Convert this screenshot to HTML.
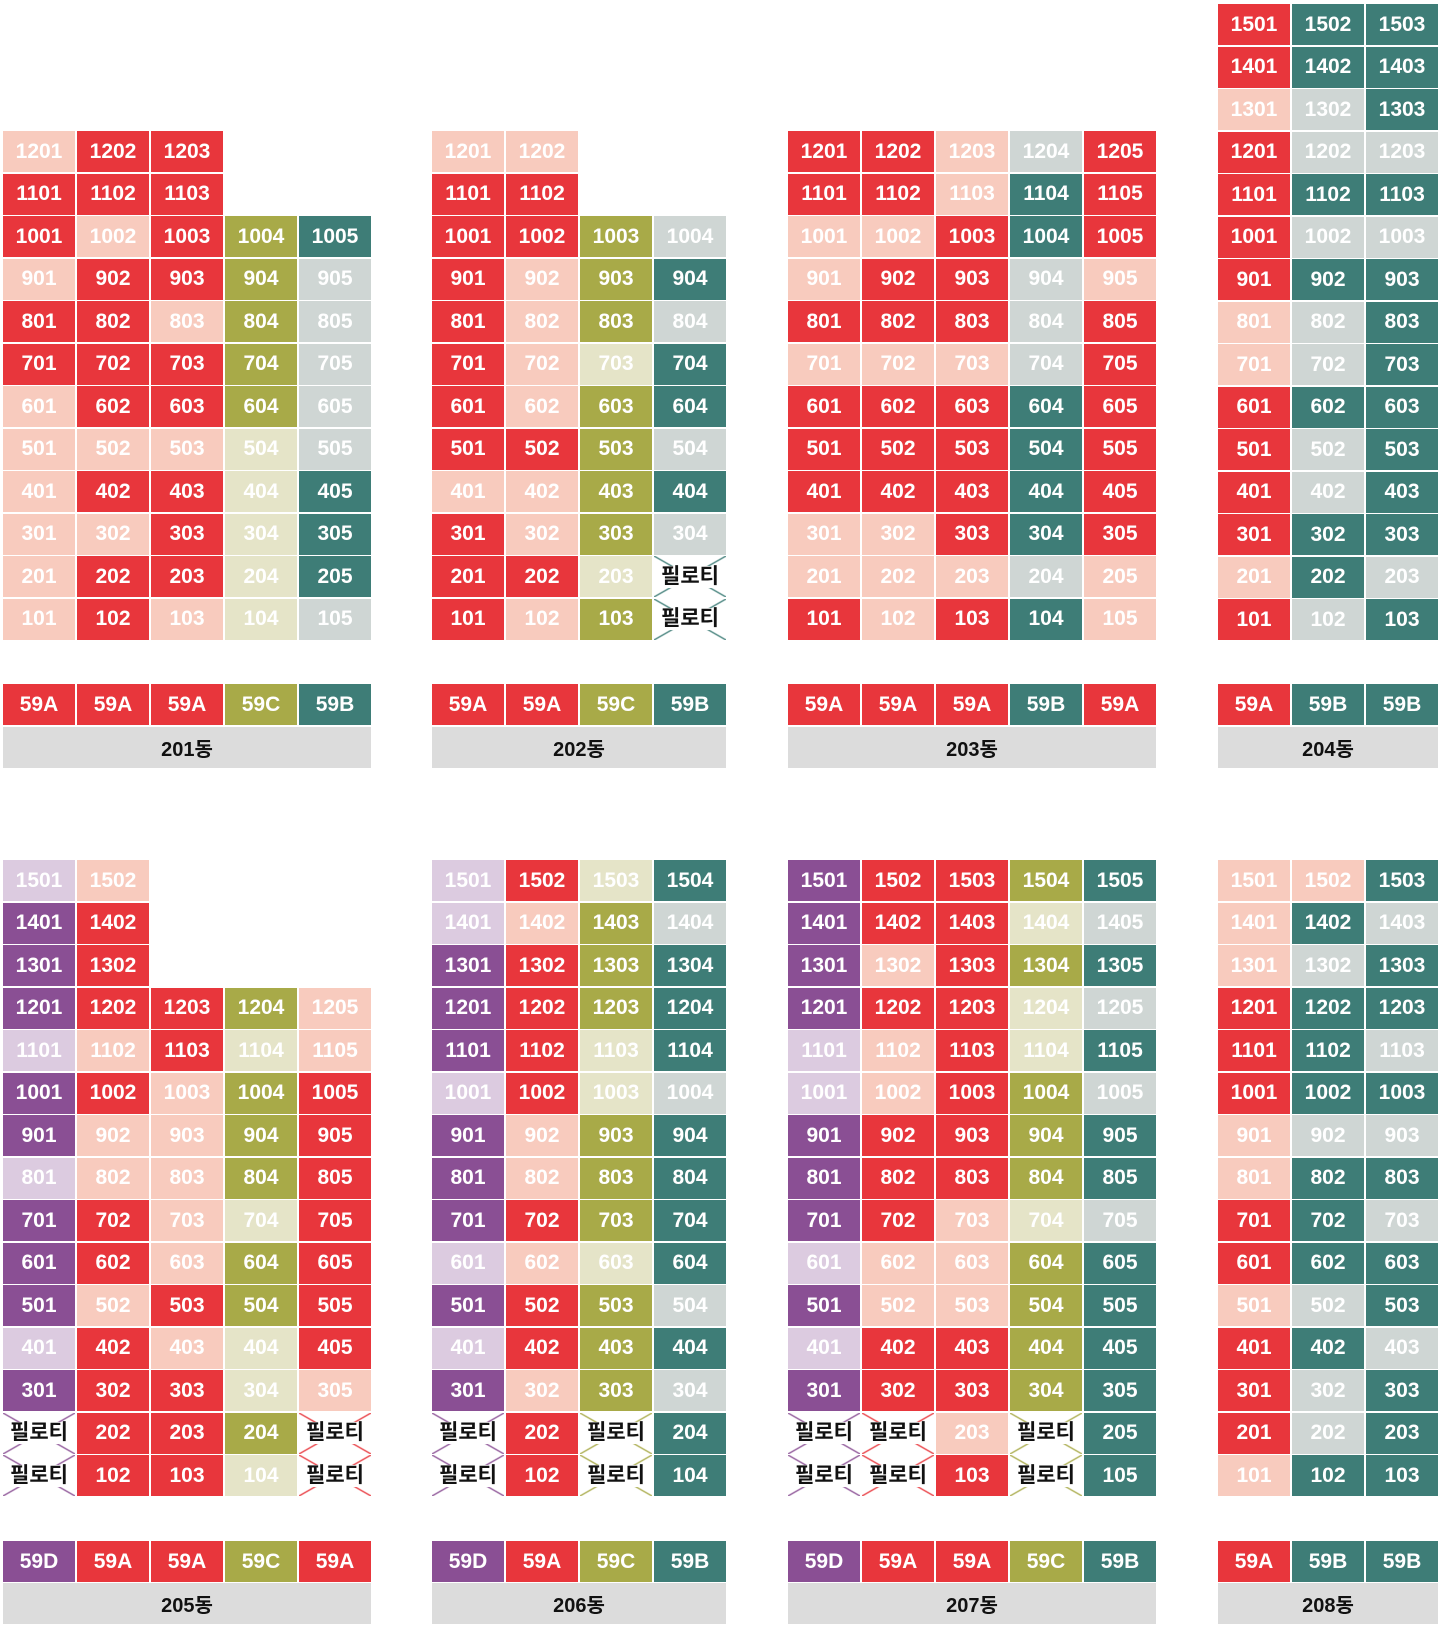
<!DOCTYPE html>
<html><head><meta charset="utf-8"><style>
body{margin:0;width:1440px;height:1626px;background:#fff;position:relative;overflow:hidden;font-family:"Liberation Sans","Noto Sans CJK KR",sans-serif}
.g{position:absolute;display:grid;grid-template-columns:repeat(var(--n),72px);column-gap:2px;row-gap:1.5px;grid-auto-rows:41px}
.g i{font-style:normal;color:#fff;font-size:21px;font-weight:bold;display:flex;align-items:center;justify-content:center}
.R{background:#e8363c}.P{background:#f8cbbe}.O{background:#a8aa48}.L{background:#e5e4c8}.T{background:#3e7d77}.G{background:#cfd6d4}.V{background:#8a4f94}.Q{background:#dccbe0}
.g i.X{color:#111;font-size:21px;background:linear-gradient(to top right,transparent calc(50% - 1.3px),var(--c) 50%,transparent calc(50% + 1.3px)),linear-gradient(to bottom right,transparent calc(50% - 1.3px),var(--c) 50%,transparent calc(50% + 1.3px))}
.X span{background:#fff;padding:0;line-height:22px}
.xv{--c:#8a4f94}.xr{--c:#e8363c}.xt{--c:#3e7d77}.xo{--c:#a8aa48}
.lb{position:absolute;height:41px;background:#dcdcdc;color:#111;font-size:20px;font-weight:bold;display:flex;align-items:center;justify-content:center}
</style></head><body>

<!-- 201 -->
<div class="g" style="--n:5;left:3px;top:131px">
<i class="P">1201</i><i class="R">1202</i><i class="R">1203</i><i></i><i></i>
<i class="R">1101</i><i class="R">1102</i><i class="R">1103</i><i></i><i></i>
<i class="R">1001</i><i class="P">1002</i><i class="R">1003</i><i class="O">1004</i><i class="T">1005</i>
<i class="P">901</i><i class="R">902</i><i class="R">903</i><i class="O">904</i><i class="G">905</i>
<i class="R">801</i><i class="R">802</i><i class="P">803</i><i class="O">804</i><i class="G">805</i>
<i class="R">701</i><i class="R">702</i><i class="R">703</i><i class="O">704</i><i class="G">705</i>
<i class="P">601</i><i class="R">602</i><i class="R">603</i><i class="O">604</i><i class="G">605</i>
<i class="P">501</i><i class="P">502</i><i class="P">503</i><i class="L">504</i><i class="G">505</i>
<i class="P">401</i><i class="R">402</i><i class="R">403</i><i class="L">404</i><i class="T">405</i>
<i class="P">301</i><i class="P">302</i><i class="R">303</i><i class="L">304</i><i class="T">305</i>
<i class="P">201</i><i class="R">202</i><i class="R">203</i><i class="L">204</i><i class="T">205</i>
<i class="P">101</i><i class="R">102</i><i class="P">103</i><i class="L">104</i><i class="G">105</i>
</div>
<div class="g" style="--n:5;left:3px;top:684px"><i class="R">59A</i><i class="R">59A</i><i class="R">59A</i><i class="O">59C</i><i class="T">59B</i></div>
<div class="lb" style="left:3px;top:727px;width:368px">201동</div>

<!-- 202 -->
<div class="g" style="--n:4;left:432px;top:131px">
<i class="P">1201</i><i class="P">1202</i><i></i><i></i>
<i class="R">1101</i><i class="R">1102</i><i></i><i></i>
<i class="R">1001</i><i class="R">1002</i><i class="O">1003</i><i class="G">1004</i>
<i class="R">901</i><i class="P">902</i><i class="O">903</i><i class="T">904</i>
<i class="R">801</i><i class="P">802</i><i class="O">803</i><i class="G">804</i>
<i class="R">701</i><i class="P">702</i><i class="L">703</i><i class="T">704</i>
<i class="R">601</i><i class="P">602</i><i class="O">603</i><i class="T">604</i>
<i class="R">501</i><i class="R">502</i><i class="O">503</i><i class="G">504</i>
<i class="P">401</i><i class="P">402</i><i class="O">403</i><i class="T">404</i>
<i class="R">301</i><i class="P">302</i><i class="O">303</i><i class="G">304</i>
<i class="R">201</i><i class="R">202</i><i class="L">203</i><i class="X xt"><span>필로티</span></i>
<i class="R">101</i><i class="P">102</i><i class="O">103</i><i class="X xt"><span>필로티</span></i>
</div>
<div class="g" style="--n:4;left:432px;top:684px"><i class="R">59A</i><i class="R">59A</i><i class="O">59C</i><i class="T">59B</i></div>
<div class="lb" style="left:432px;top:727px;width:294px">202동</div>

<!-- 203 -->
<div class="g" style="--n:5;left:788px;top:131px">
<i class="R">1201</i><i class="R">1202</i><i class="P">1203</i><i class="G">1204</i><i class="R">1205</i>
<i class="R">1101</i><i class="R">1102</i><i class="P">1103</i><i class="T">1104</i><i class="R">1105</i>
<i class="P">1001</i><i class="P">1002</i><i class="R">1003</i><i class="T">1004</i><i class="R">1005</i>
<i class="P">901</i><i class="R">902</i><i class="R">903</i><i class="G">904</i><i class="P">905</i>
<i class="R">801</i><i class="R">802</i><i class="R">803</i><i class="G">804</i><i class="R">805</i>
<i class="P">701</i><i class="P">702</i><i class="P">703</i><i class="G">704</i><i class="R">705</i>
<i class="R">601</i><i class="R">602</i><i class="R">603</i><i class="T">604</i><i class="R">605</i>
<i class="R">501</i><i class="R">502</i><i class="R">503</i><i class="T">504</i><i class="R">505</i>
<i class="R">401</i><i class="R">402</i><i class="R">403</i><i class="T">404</i><i class="R">405</i>
<i class="P">301</i><i class="P">302</i><i class="R">303</i><i class="T">304</i><i class="R">305</i>
<i class="P">201</i><i class="P">202</i><i class="P">203</i><i class="G">204</i><i class="P">205</i>
<i class="R">101</i><i class="P">102</i><i class="R">103</i><i class="T">104</i><i class="P">105</i>
</div>
<div class="g" style="--n:5;left:788px;top:684px"><i class="R">59A</i><i class="R">59A</i><i class="R">59A</i><i class="T">59B</i><i class="R">59A</i></div>
<div class="lb" style="left:788px;top:727px;width:368px">203동</div>

<!-- 204 -->
<div class="g" style="--n:3;left:1218px;top:4px">
<i class="R">1501</i><i class="T">1502</i><i class="T">1503</i>
<i class="R">1401</i><i class="T">1402</i><i class="T">1403</i>
<i class="P">1301</i><i class="G">1302</i><i class="T">1303</i>
<i class="R">1201</i><i class="G">1202</i><i class="G">1203</i>
<i class="R">1101</i><i class="T">1102</i><i class="T">1103</i>
<i class="R">1001</i><i class="G">1002</i><i class="G">1003</i>
<i class="R">901</i><i class="T">902</i><i class="T">903</i>
<i class="P">801</i><i class="G">802</i><i class="T">803</i>
<i class="P">701</i><i class="G">702</i><i class="T">703</i>
<i class="R">601</i><i class="T">602</i><i class="T">603</i>
<i class="R">501</i><i class="G">502</i><i class="T">503</i>
<i class="R">401</i><i class="G">402</i><i class="T">403</i>
<i class="R">301</i><i class="T">302</i><i class="T">303</i>
<i class="P">201</i><i class="T">202</i><i class="G">203</i>
<i class="R">101</i><i class="G">102</i><i class="T">103</i>
</div>
<div class="g" style="--n:3;left:1218px;top:684px"><i class="R">59A</i><i class="T">59B</i><i class="T">59B</i></div>
<div class="lb" style="left:1218px;top:727px;width:220px">204동</div>

<!-- 205 -->
<div class="g" style="--n:5;left:3px;top:860px">
<i class="Q">1501</i><i class="P">1502</i><i></i><i></i><i></i>
<i class="V">1401</i><i class="R">1402</i><i></i><i></i><i></i>
<i class="V">1301</i><i class="R">1302</i><i></i><i></i><i></i>
<i class="V">1201</i><i class="R">1202</i><i class="R">1203</i><i class="O">1204</i><i class="P">1205</i>
<i class="Q">1101</i><i class="P">1102</i><i class="R">1103</i><i class="L">1104</i><i class="P">1105</i>
<i class="V">1001</i><i class="R">1002</i><i class="P">1003</i><i class="O">1004</i><i class="R">1005</i>
<i class="V">901</i><i class="P">902</i><i class="P">903</i><i class="O">904</i><i class="R">905</i>
<i class="Q">801</i><i class="P">802</i><i class="P">803</i><i class="O">804</i><i class="R">805</i>
<i class="V">701</i><i class="R">702</i><i class="P">703</i><i class="L">704</i><i class="R">705</i>
<i class="V">601</i><i class="R">602</i><i class="P">603</i><i class="O">604</i><i class="R">605</i>
<i class="V">501</i><i class="P">502</i><i class="R">503</i><i class="O">504</i><i class="R">505</i>
<i class="Q">401</i><i class="R">402</i><i class="P">403</i><i class="L">404</i><i class="R">405</i>
<i class="V">301</i><i class="R">302</i><i class="R">303</i><i class="L">304</i><i class="P">305</i>
<i class="X xv"><span>필로티</span></i><i class="R">202</i><i class="R">203</i><i class="O">204</i><i class="X xr"><span>필로티</span></i>
<i class="X xv"><span>필로티</span></i><i class="R">102</i><i class="R">103</i><i class="L">104</i><i class="X xr"><span>필로티</span></i>
</div>
<div class="g" style="--n:5;left:3px;top:1541px"><i class="V">59D</i><i class="R">59A</i><i class="R">59A</i><i class="O">59C</i><i class="R">59A</i></div>
<div class="lb" style="left:3px;top:1583px;width:368px">205동</div>

<!-- 206 -->
<div class="g" style="--n:4;left:432px;top:860px">
<i class="Q">1501</i><i class="R">1502</i><i class="L">1503</i><i class="T">1504</i>
<i class="Q">1401</i><i class="P">1402</i><i class="O">1403</i><i class="G">1404</i>
<i class="V">1301</i><i class="R">1302</i><i class="O">1303</i><i class="T">1304</i>
<i class="V">1201</i><i class="R">1202</i><i class="O">1203</i><i class="T">1204</i>
<i class="V">1101</i><i class="R">1102</i><i class="L">1103</i><i class="T">1104</i>
<i class="Q">1001</i><i class="R">1002</i><i class="L">1003</i><i class="G">1004</i>
<i class="V">901</i><i class="P">902</i><i class="O">903</i><i class="T">904</i>
<i class="V">801</i><i class="P">802</i><i class="O">803</i><i class="T">804</i>
<i class="V">701</i><i class="R">702</i><i class="O">703</i><i class="T">704</i>
<i class="Q">601</i><i class="P">602</i><i class="L">603</i><i class="T">604</i>
<i class="V">501</i><i class="R">502</i><i class="O">503</i><i class="G">504</i>
<i class="Q">401</i><i class="R">402</i><i class="O">403</i><i class="T">404</i>
<i class="V">301</i><i class="P">302</i><i class="O">303</i><i class="G">304</i>
<i class="X xv"><span>필로티</span></i><i class="R">202</i><i class="X xo"><span>필로티</span></i><i class="T">204</i>
<i class="X xv"><span>필로티</span></i><i class="R">102</i><i class="X xo"><span>필로티</span></i><i class="T">104</i>
</div>
<div class="g" style="--n:4;left:432px;top:1541px"><i class="V">59D</i><i class="R">59A</i><i class="O">59C</i><i class="T">59B</i></div>
<div class="lb" style="left:432px;top:1583px;width:294px">206동</div>

<!-- 207 -->
<div class="g" style="--n:5;left:788px;top:860px">
<i class="V">1501</i><i class="R">1502</i><i class="R">1503</i><i class="O">1504</i><i class="T">1505</i>
<i class="V">1401</i><i class="R">1402</i><i class="R">1403</i><i class="L">1404</i><i class="G">1405</i>
<i class="V">1301</i><i class="P">1302</i><i class="R">1303</i><i class="O">1304</i><i class="T">1305</i>
<i class="V">1201</i><i class="R">1202</i><i class="R">1203</i><i class="L">1204</i><i class="G">1205</i>
<i class="Q">1101</i><i class="P">1102</i><i class="R">1103</i><i class="L">1104</i><i class="T">1105</i>
<i class="Q">1001</i><i class="P">1002</i><i class="R">1003</i><i class="O">1004</i><i class="G">1005</i>
<i class="V">901</i><i class="R">902</i><i class="R">903</i><i class="O">904</i><i class="T">905</i>
<i class="V">801</i><i class="R">802</i><i class="R">803</i><i class="O">804</i><i class="T">805</i>
<i class="V">701</i><i class="R">702</i><i class="P">703</i><i class="L">704</i><i class="G">705</i>
<i class="Q">601</i><i class="P">602</i><i class="P">603</i><i class="O">604</i><i class="T">605</i>
<i class="V">501</i><i class="P">502</i><i class="P">503</i><i class="O">504</i><i class="T">505</i>
<i class="Q">401</i><i class="R">402</i><i class="R">403</i><i class="O">404</i><i class="T">405</i>
<i class="V">301</i><i class="R">302</i><i class="R">303</i><i class="O">304</i><i class="T">305</i>
<i class="X xv"><span>필로티</span></i><i class="X xr"><span>필로티</span></i><i class="P">203</i><i class="X xo"><span>필로티</span></i><i class="T">205</i>
<i class="X xv"><span>필로티</span></i><i class="X xr"><span>필로티</span></i><i class="R">103</i><i class="X xo"><span>필로티</span></i><i class="T">105</i>
</div>
<div class="g" style="--n:5;left:788px;top:1541px"><i class="V">59D</i><i class="R">59A</i><i class="R">59A</i><i class="O">59C</i><i class="T">59B</i></div>
<div class="lb" style="left:788px;top:1583px;width:368px">207동</div>

<!-- 208 -->
<div class="g" style="--n:3;left:1218px;top:860px">
<i class="P">1501</i><i class="P">1502</i><i class="T">1503</i>
<i class="P">1401</i><i class="T">1402</i><i class="G">1403</i>
<i class="P">1301</i><i class="G">1302</i><i class="T">1303</i>
<i class="R">1201</i><i class="T">1202</i><i class="T">1203</i>
<i class="R">1101</i><i class="T">1102</i><i class="G">1103</i>
<i class="R">1001</i><i class="T">1002</i><i class="T">1003</i>
<i class="P">901</i><i class="G">902</i><i class="G">903</i>
<i class="P">801</i><i class="T">802</i><i class="T">803</i>
<i class="R">701</i><i class="T">702</i><i class="G">703</i>
<i class="R">601</i><i class="T">602</i><i class="T">603</i>
<i class="P">501</i><i class="G">502</i><i class="T">503</i>
<i class="R">401</i><i class="T">402</i><i class="G">403</i>
<i class="R">301</i><i class="G">302</i><i class="T">303</i>
<i class="R">201</i><i class="G">202</i><i class="T">203</i>
<i class="P">101</i><i class="T">102</i><i class="T">103</i>
</div>
<div class="g" style="--n:3;left:1218px;top:1541px"><i class="R">59A</i><i class="T">59B</i><i class="T">59B</i></div>
<div class="lb" style="left:1218px;top:1583px;width:220px">208동</div>

</body></html>
